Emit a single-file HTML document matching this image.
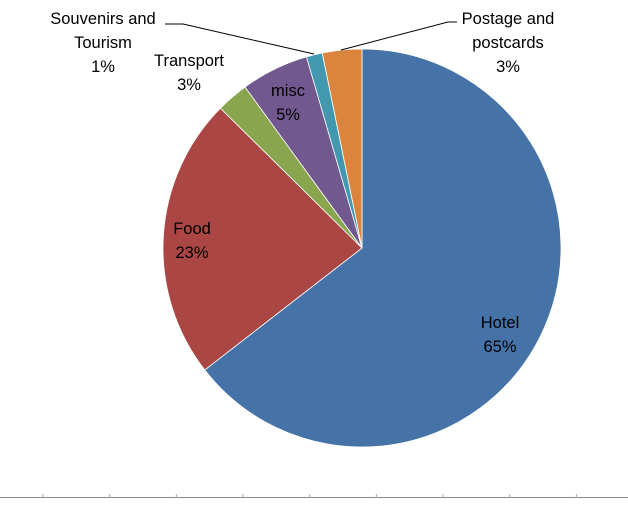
<!DOCTYPE html>
<html><head><meta charset="utf-8"><style>
body{margin:0;background:#fff;width:628px;height:500px;overflow:hidden}
text{font-family:"Liberation Sans",sans-serif;font-size:16.5px;fill:#000;text-anchor:middle}
</style></head><body>
<svg width="628" height="500" viewBox="0 0 628 500" xmlns="http://www.w3.org/2000/svg">
<g id="pie"></g>
<polyline points="165,24 183,24 314,54" fill="none" stroke="#000" stroke-width="1"/>
<polyline points="341,50 448,22 457,22" fill="none" stroke="#000" stroke-width="1"/>
<text x="103" y="24">Souvenirs and</text>
<text x="103" y="48">Tourism</text>
<text x="103" y="72">1%</text>
<text x="189" y="66">Transport</text>
<text x="189" y="90">3%</text>
<text x="288" y="96">misc</text>
<text x="288" y="120">5%</text>
<text x="508" y="24">Postage and</text>
<text x="508" y="48">postcards</text>
<text x="508" y="72">3%</text>
<text x="192" y="234">Food</text>
<text x="192" y="258">23%</text>
<text x="500" y="328">Hotel</text>
<text x="500" y="352">65%</text>
<line x1="0" y1="497.5" x2="628" y2="497.5" stroke="#888" stroke-width="1"/>
<g stroke="#aaa" stroke-width="1" id="ticks"></g>
</svg>
<script>
var cx=362,cy=248,r=199;
var d=[[0.645,'#4572A7'],[0.229,'#AA4643'],[0.026,'#89A54E'],[0.055,'#71588F'],[0.013,'#4198AF'],[0.032,'#DB843D']];
var a=0,g=document.getElementById('pie'),s='';
d.forEach(function(x){var a1=a+x[0]*2*Math.PI;
var x0=cx+r*Math.sin(a),y0=cy-r*Math.cos(a),x1=cx+r*Math.sin(a1),y1=cy-r*Math.cos(a1);
s+='<path d="M'+cx+','+cy+' L'+x0+','+y0+' A'+r+','+r+' 0 '+(x[0]>0.5?1:0)+' 1 '+x1+','+y1+' Z" fill="'+x[1]+'" stroke="#fff" stroke-width="0.8"/>';a=a1;});
g.innerHTML=s;
var t='';for(var i=0;i<10;i++){var xx=43+66.67*i;t+='<line x1="'+xx+'" y1="494" x2="'+xx+'" y2="498"/>';}
document.getElementById('ticks').innerHTML=t;
</script>
</body></html>
